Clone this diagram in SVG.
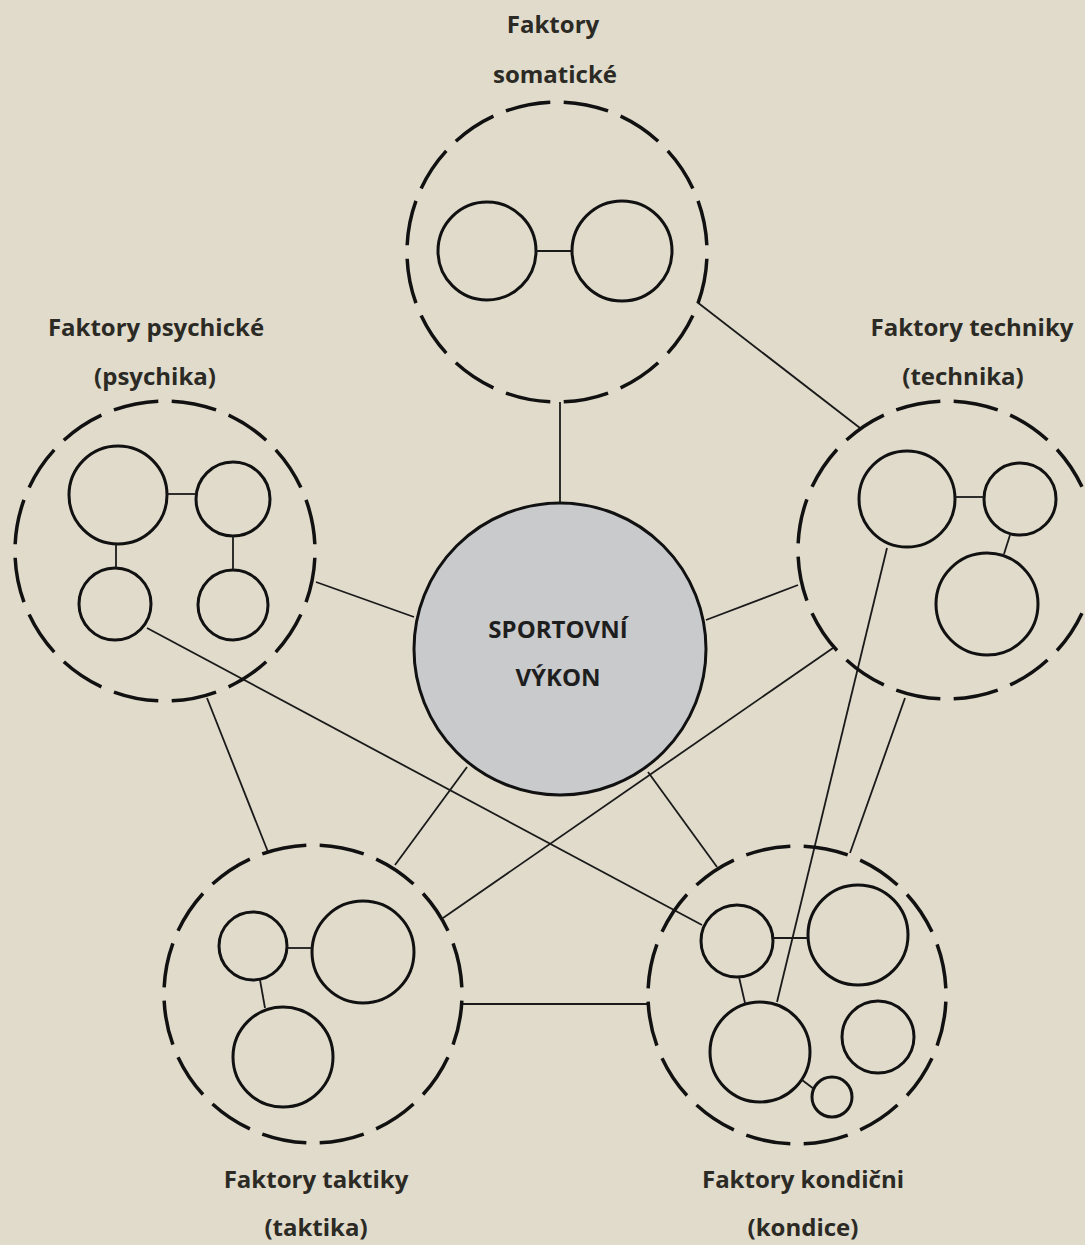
<svg xmlns="http://www.w3.org/2000/svg" width="1085" height="1245" viewBox="0 0 1085 1245">
  <style>
    .bg { fill: #e1dbcc; }
    .group { fill: none; stroke: #111; stroke-width: 3.5; stroke-dasharray: 0.77 0.23; stroke-dashoffset: 0.885; }
    .item { fill: none; stroke: #111; stroke-width: 3; }
    .core { fill: #c9cacc; stroke: #111; stroke-width: 3; }
    .link { stroke: #1a1a1a; stroke-width: 1.8; fill: none; }
    .label { font-family: "Open Sans", "Liberation Sans", sans-serif; font-weight: 700; font-size: 24px; fill: #2b2a24; text-anchor: middle; }
    .core-label { font-family: "Open Sans", "Liberation Sans", sans-serif; font-weight: 700; font-size: 24px; fill: #1e1e1e; text-anchor: middle; }
  </style>
  <rect class="bg" x="0" y="0" width="1085" height="1245"/>

  <!-- connectors between factor groups and the core -->
  <g id="connectors">
    <line class="link" x1="560" y1="402" x2="560" y2="503"/>
    <line class="link" x1="697" y1="302" x2="860" y2="428"/>
    <line class="link" x1="316" y1="582" x2="414" y2="617"/>
    <line class="link" x1="147" y1="628" x2="702" y2="925"/>
    <line class="link" x1="207" y1="698" x2="268" y2="852"/>
    <line class="link" x1="798" y1="585" x2="706" y2="620"/>
    <line class="link" x1="887" y1="548" x2="777" y2="1002"/>
    <line class="link" x1="833" y1="648" x2="443" y2="918"/>
    <line class="link" x1="905" y1="698" x2="850" y2="853"/>
    <line class="link" x1="467" y1="767" x2="395" y2="865"/>
    <line class="link" x1="648" y1="772" x2="717" y2="867"/>
    <line class="link" x1="463" y1="1004" x2="650" y2="1004"/>
  </g>

  <!-- somatic factors -->
  <g id="somaticke">
    <circle class="group" cx="557" cy="252" r="150" pathLength="16"/>
    <circle class="item" cx="487" cy="251" r="49"/>
    <circle class="item" cx="622" cy="251" r="50"/>
    <line class="link" x1="536" y1="251" x2="572" y2="251"/>
    <text class="label" x="553" y="33">Faktory</text>
    <text class="label" x="555" y="83">somatické</text>
  </g>

  <!-- psychological factors -->
  <g id="psychika">
    <circle class="group" cx="165" cy="551" r="150" pathLength="16"/>
    <circle class="item" cx="118" cy="495" r="49"/>
    <circle class="item" cx="233" cy="499" r="37"/>
    <circle class="item" cx="115" cy="604" r="36"/>
    <circle class="item" cx="233" cy="605" r="35"/>
    <line class="link" x1="167" y1="494" x2="196" y2="494"/>
    <line class="link" x1="116" y1="544" x2="116" y2="568"/>
    <line class="link" x1="233" y1="536" x2="233" y2="570"/>
    <text class="label" x="156" y="336">Faktory psychické</text>
    <text class="label" x="155" y="385">(psychika)</text>
  </g>

  <!-- technique factors -->
  <g id="technika">
    <circle class="group" cx="947" cy="550" r="149" pathLength="16"/>
    <circle class="item" cx="907" cy="499" r="48"/>
    <circle class="item" cx="1020" cy="499" r="36"/>
    <circle class="item" cx="987" cy="604" r="51"/>
    <line class="link" x1="955" y1="497" x2="984" y2="497"/>
    <line class="link" x1="1010" y1="535" x2="1004" y2="554"/>
    <text class="label" x="972" y="336">Faktory techniky</text>
    <text class="label" x="963" y="385">(technika)</text>
  </g>

  <!-- central performance node -->
  <g id="vykon">
    <circle class="core" cx="560" cy="649" r="146"/>
    <text class="core-label" x="558" y="638">SPORTOVNÍ</text>
    <text class="core-label" x="558" y="686">VÝKON</text>
  </g>

  <!-- tactical factors -->
  <g id="taktika">
    <circle class="group" cx="313" cy="994" r="149" pathLength="16"/>
    <circle class="item" cx="253" cy="946" r="34"/>
    <circle class="item" cx="363" cy="952" r="51"/>
    <circle class="item" cx="283" cy="1057" r="50"/>
    <line class="link" x1="287" y1="948" x2="312" y2="948"/>
    <line class="link" x1="260" y1="980" x2="265" y2="1008"/>
    <text class="label" x="316" y="1188">Faktory taktiky</text>
    <text class="label" x="316" y="1236">(taktika)</text>
  </g>

  <!-- conditioning factors -->
  <g id="kondice">
    <circle class="group" cx="797" cy="995" r="149" pathLength="16"/>
    <circle class="item" cx="737" cy="941" r="36"/>
    <circle class="item" cx="858" cy="935" r="50"/>
    <circle class="item" cx="760" cy="1052" r="50"/>
    <circle class="item" cx="878" cy="1037" r="36"/>
    <circle class="item" cx="832" cy="1097" r="20"/>
    <line class="link" x1="773" y1="938" x2="808" y2="938"/>
    <line class="link" x1="739" y1="977" x2="745" y2="1003"/>
    <line class="link" x1="802" y1="1080" x2="814" y2="1089"/>
    <text class="label" x="803" y="1188">Faktory kondični</text>
    <text class="label" x="803" y="1236">(kondice)</text>
  </g>
</svg>
